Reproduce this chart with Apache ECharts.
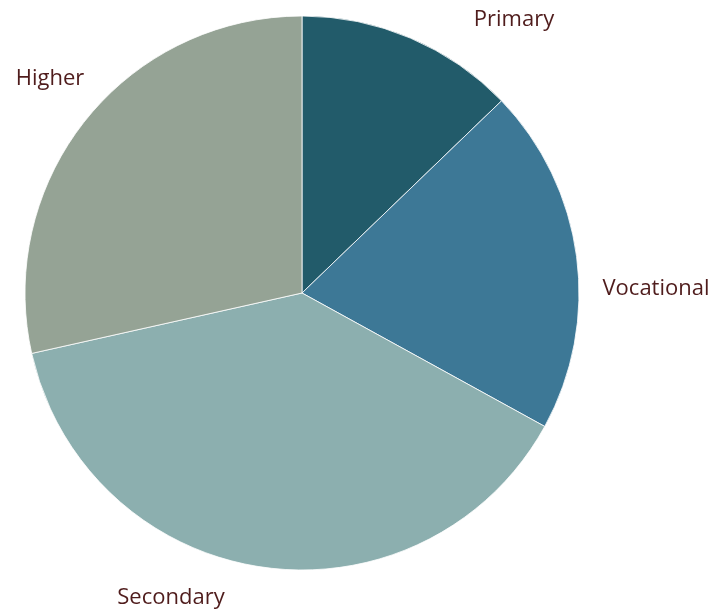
<!DOCTYPE html>
<html>
<head>
<meta charset="utf-8">
<script src="https://cdn.jsdelivr.net/npm/echarts@6/dist/echarts.min.js"></script>
<style>
  html, body { margin: 0; padding: 0; background: #fff; }
  #chart { width: 716px; height: 611px; }
</style>
</head>
<body>
<div id="chart"></div>
<script>
const categories = ['Primary', 'Vocational', 'Secondary', 'Higher'];
const values = [12.8, 20.2, 38.5, 28.5];
const colors = ['#225B6A', '#3D7896', '#8CAFAF', '#95A395'];

// label anchor points (text centre), as in the reference layout
const labelSpots = [[514, 20], [656, 289], [171, 598], [50, 79]];

const chart = echarts.init(document.getElementById('chart'));

chart.setOption({
    animation: false,
    series: [{
        type: 'pie',
        center: [302, 293],
        radius: 277,
        startAngle: 90,
        clockwise: true,
        data: categories.map((name, i) => ({
            name: name,
            value: values[i],
            itemStyle: { color: colors[i] }
        })),
        itemStyle: { borderColor: '#ffffff', borderWidth: 0.8 },
        label: {
            show: true,
            position: 'outside',
            formatter: '{b}',
            color: '#4F1C1C',
            fontFamily: 'Open Sans',
            fontSize: 22,
            overflow: 'none',
            width: 200
        },
        labelLine: { show: false },
        labelLayout: params => ({
            x: labelSpots[params.dataIndex][0],
            y: labelSpots[params.dataIndex][1],
            align: 'center',
            verticalAlign: 'middle'
        })
    }]
});
</script>
</body>
</html>
